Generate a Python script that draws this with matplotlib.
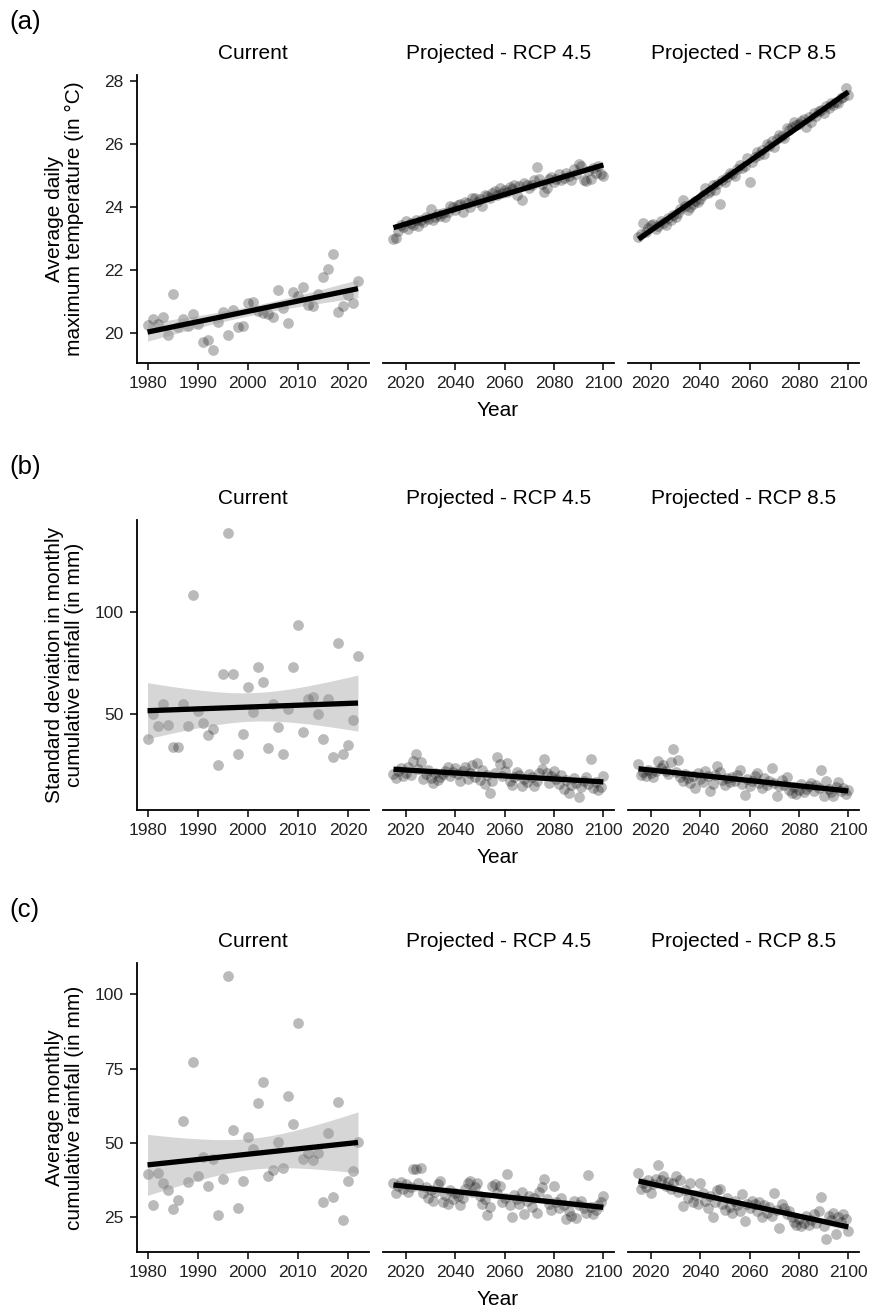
import numpy as np
import matplotlib
matplotlib.use('Agg')
import matplotlib.pyplot as plt

plt.rcParams['font.family'] = ['Liberation Sans', 'DejaVu Sans']

years_cur = np.arange(1980, 2023)
years_proj = np.arange(2015, 2101)

# (a) average daily maximum temperature
tmax_cur = [20.27, 20.45, 20.30, 20.50, 19.95, 21.26, 20.19, 20.45, 20.24, 20.60,
            20.30, 19.72, 19.80, 19.47, 20.37, 20.66, 19.95, 20.75, 20.21, 20.22,
            20.96, 20.98, 20.70, 20.64, 20.61, 20.50, 21.38, 20.80, 20.33, 21.32,
            21.17, 21.47, 20.90, 20.85, 21.24, 21.77, 22.05, 22.52, 20.66, 20.87,
            21.20, 20.95, 21.66]
tmax_45 = [23.00, 23.02, 23.25, 23.45, 23.38, 23.55, 23.30, 23.50, 23.42, 23.60,
           23.40, 23.58, 23.52, 23.70, 23.62, 23.95, 23.60, 23.68, 23.78, 23.72,
           23.80, 23.70, 23.85, 24.05, 24.00, 23.90, 24.08, 24.10, 23.85, 24.15,
           24.12, 24.00, 24.30, 24.28, 24.18, 24.25, 24.05, 24.40, 24.35, 24.28,
           24.45, 24.50, 24.40, 24.60, 24.45, 24.55, 24.48, 24.65, 24.58, 24.70,
           24.40, 24.68, 24.22, 24.78, 24.70, 24.60, 24.72, 24.85, 25.27, 24.90,
           24.75, 24.47, 24.60, 24.88, 24.95, 24.80, 24.90, 25.05, 24.85, 24.92,
           25.10, 25.00, 24.85, 25.20, 25.05, 25.38, 25.30, 24.85, 24.82, 25.15,
           24.90, 25.25, 25.10, 25.30, 25.05, 24.98]
tmax_85 = [23.05, 23.15, 23.50, 23.20, 23.35, 23.45, 23.48, 23.30, 23.40, 23.55,
           23.50, 23.45, 23.65, 23.60, 23.75, 23.70, 23.80, 23.95, 24.22, 24.05,
           23.90, 24.00, 24.10, 24.20, 24.15, 24.25, 24.40, 24.61, 24.45, 24.50,
           24.70, 24.55, 24.75, 24.10, 24.85, 24.80, 24.95, 25.10, 25.05, 25.00,
           25.20, 25.35, 25.25, 25.30, 25.55, 24.79, 25.45, 25.60, 25.75, 25.65,
           25.80, 25.70, 26.00, 25.95, 26.10, 25.90, 26.15, 26.30, 26.25, 26.20,
           26.50, 26.45, 26.55, 26.70, 26.60, 26.65, 26.75, 26.80, 26.55, 26.85,
           26.70, 27.00, 26.90, 27.05, 27.10, 27.00, 27.20, 27.15, 27.30, 27.25,
           27.35, 27.30, 27.45, 27.50, 27.78, 27.55]

# (b) standard deviation of monthly cumulative rainfall
rsd_cur = [37.7, 50.0, 43.9, 54.9, 44.3, 33.8, 33.8, 54.9, 43.9, 108.2,
           51.3, 45.2, 39.5, 42.6, 24.8, 69.3, 138.7, 69.3, 30.0, 39.8,
           63.1, 51.0, 72.9, 65.7, 33.3, 54.6, 43.6, 30.0, 52.1, 72.9,
           93.4, 41.0, 57.0, 58.2, 50.0, 37.4, 57.0, 28.7, 84.9, 30.0,
           34.6, 46.7, 78.4]
rsd_45 = [20.5, 18.5, 22.0, 23.5, 19.5, 21.0, 24.0, 20.0, 26.5, 30.0,
          23.0, 26.3, 18.0, 20.5, 22.5, 18.5, 16.0, 21.0, 17.5, 19.0,
          20.5, 22.0, 24.0, 19.5, 21.5, 23.5, 20.5, 17.0, 22.0, 24.0,
          18.0, 21.0, 24.5, 19.0, 25.5, 17.5, 22.5, 15.5, 20.0, 11.2,
          17.0, 21.0, 28.8, 25.0, 19.5, 22.0, 25.5, 17.0, 15.0, 19.0,
          21.5, 20.0, 14.5, 18.0, 16.5, 20.5, 19.0, 14.5, 17.0, 21.0,
          23.0, 27.6, 21.0, 16.0, 19.5, 22.0, 18.0, 15.5, 20.0, 13.0,
          17.5, 11.2, 15.0, 18.5, 16.0, 9.1, 14.0, 17.0, 19.0, 15.5,
          27.9, 13.5, 16.5, 12.5, 14.0, 19.5]
rsd_85 = [25.2, 20.0, 21.5, 19.5, 22.5, 21.0, 19.0, 22.0, 26.5, 23.5,
          24.5, 22.0, 20.5, 26.0, 32.8, 21.5, 27.1, 19.0, 17.0, 20.5,
          18.5, 16.0, 19.5, 13.3, 21.0, 18.0, 16.5, 22.0, 19.5, 12.0,
          15.5, 20.0, 24.2, 21.5, 17.5, 15.0, 18.5, 16.5, 19.0, 17.0,
          20.0, 22.5, 15.5, 10.0, 18.0, 14.5, 17.0, 19.5, 21.0, 16.0,
          13.5, 18.5, 15.0, 17.0, 23.5, 16.0, 9.5, 14.5, 17.5, 15.0,
          19.0, 12.5, 11.0, 14.0, 10.5, 12.5, 15.5, 11.5, 13.0, 14.5,
          16.0, 12.0, 15.0, 13.5, 22.2, 9.5, 17.0, 13.0, 11.5, 9.5,
          14.0, 16.5, 12.0, 13.5, 10.5, 12.5]

# (c) average monthly cumulative rainfall
rmean_cur = [39.4, 29.0, 39.9, 36.5, 34.3, 27.6, 30.9, 57.3, 36.9, 77.1,
             38.8, 45.2, 35.4, 44.6, 25.7, 38.0, 106.1, 54.3, 28.1, 37.1,
             52.0, 47.8, 63.5, 70.4, 38.8, 41.0, 50.3, 41.6, 65.9, 56.4,
             90.4, 44.7, 46.6, 44.4, 46.6, 30.2, 53.4, 31.7, 63.8, 23.9,
             37.1, 40.7, 50.2]
rmean_45 = [36.5, 33.0, 35.5, 37.0, 34.5, 36.0, 33.5, 35.0, 41.1, 41.3,
            36.5, 41.7, 33.0, 35.0, 31.5, 34.0, 30.5, 33.5, 36.0, 37.1,
            30.0, 32.5, 29.5, 34.0, 31.0, 33.0, 32.0, 29.0, 31.5, 34.5,
            36.5, 37.1, 33.5, 35.0, 36.5, 32.0, 29.5, 31.0, 25.8, 28.5,
            35.5, 36.0, 33.0, 35.5, 30.0, 31.5, 39.5, 29.0, 25.0, 32.5,
            31.0, 29.5, 33.5, 26.2, 30.5, 32.0, 28.5, 31.5, 26.5, 33.5,
            35.0, 37.8, 31.0, 29.5, 27.3, 35.5, 30.0, 28.0, 31.5, 29.0,
            24.5, 27.0, 25.5, 30.5, 24.8, 29.0, 30.5, 28.0, 26.5, 39.2,
            28.5, 26.0, 27.5, 29.0, 30.0, 32.1]
rmean_85 = [39.9, 34.5, 36.5, 35.0, 37.5, 33.0, 36.0, 38.0, 42.5, 37.5,
            39.0, 35.5, 37.0, 34.5, 36.5, 39.0, 33.5, 37.5, 28.8, 34.0,
            31.5, 36.5, 30.0, 32.5, 29.5, 36.6, 33.0, 30.5, 28.0, 32.0,
            24.9, 30.0, 34.0, 34.6, 29.5, 27.5, 31.5, 28.5, 26.5, 30.5,
            29.0, 27.0, 32.7, 23.8, 29.5, 28.0, 30.5, 29.5, 27.0, 30.0,
            24.9, 29.0, 26.5, 28.5, 25.5, 33.0, 27.5, 21.3, 29.5, 28.0,
            26.0, 27.0, 25.0, 23.5, 22.5, 24.5, 22.0, 23.0, 25.5, 22.5,
            24.0, 26.0, 23.0, 27.0, 31.8, 22.0, 17.7, 25.5, 24.0, 26.5,
            19.2, 25.0, 23.5, 26.0, 24.5, 20.2]

panel_titles = ['Current', 'Projected - RCP 4.5', 'Projected - RCP 8.5']
row_letters = ['(a)', '(b)', '(c)']
row_ylabels = ['Average daily\nmaximum temperature (in \u00b0C)',
               'Standard deviation in monthly\ncumulative rainfall (in mm)',
               'Average monthly\ncumulative rainfall (in mm)']
row_yticks = [[20, 22, 24, 26, 28], [50, 100], [25, 50, 75, 100]]
rows = [[tmax_cur, tmax_45, tmax_85],
        [rsd_cur, rsd_45, rsd_85],
        [rmean_cur, rmean_45, rmean_85]]
col_years = [years_cur, years_proj, years_proj]
col_xticks = [[1980, 1990, 2000, 2010, 2020], [2020, 2040, 2060, 2080, 2100],
              [2020, 2040, 2060, 2080, 2100]]

W, H = 870, 1308
row_tb = [(75, 363), (520, 810), (963, 1252)]
col_lr = [(137, 368.5), (383, 613.8), (628, 858.8)]


def t95(df):
    # rough two-sided 95% t quantile
    return 1.96 + 2.4 / df


def lm_fit(x, y, xs):
    x = np.asarray(x, float)
    y = np.asarray(y, float)
    b, a = np.polyfit(x, y, 1)
    n = len(x)
    resid = y - (a + b * x)
    s = np.sqrt(np.sum(resid ** 2) / (n - 2))
    se = s * np.sqrt(1 / n + (xs - x.mean()) ** 2 / np.sum((x - x.mean()) ** 2))
    fit = a + b * xs
    return fit, fit - t95(n - 2) * se, fit + t95(n - 2) * se


def expand(lo, hi, f=0.05):
    d = (hi - lo) * f
    return lo - d, hi + d


fig = plt.figure(figsize=(W / 100, H / 100), dpi=100)

for r in range(3):
    top, bot = row_tb[r]
    allv = np.concatenate([np.asarray(v, float) for v in rows[r]])
    ylim = expand(allv.min(), allv.max())
    for c in range(3):
        left, right = col_lr[c]
        ax = fig.add_axes([left / W, 1 - bot / H, (right - left) / W, (bot - top) / H])
        x = col_years[c]
        y = np.asarray(rows[r][c], float)
        ax.scatter(x, y, s=60, color='black', alpha=0.27, linewidths=0, zorder=2)
        xs = np.linspace(x.min(), x.max(), 100)
        fit, lo, hi = lm_fit(x, y, xs)
        ax.fill_between(xs, lo, hi, color='#999999', alpha=0.4, linewidth=0, zorder=3)
        ax.plot(xs, fit, color='black', linewidth=3.8, solid_capstyle='butt', zorder=4)

        ax.set_xlim(expand(x.min(), x.max()))
        ax.set_ylim(ylim)
        ax.set_xticks(col_xticks[c])
        ax.set_yticks(row_yticks[r])
        for s in ['top', 'right']:
            ax.spines[s].set_visible(False)
        ax.spines['bottom'].set_linewidth(1.3)
        ax.spines['left'].set_linewidth(1.3)
        ax.tick_params(axis='both', length=5, width=1.1, color='black',
                       labelsize=12.5, labelcolor='#222222', pad=4.5)
        if c > 0:
            ax.spines['left'].set_visible(False)
            ax.tick_params(axis='y', left=False, labelleft=False)
        else:
            ax.set_ylabel(row_ylabels[r], fontsize=15, linespacing=1.05)
            ax.yaxis.set_label_coords((84 - left) / (right - left), 0.5)
        ax.text(0.5, 1 + 16 / (bot - top), panel_titles[c], transform=ax.transAxes,
                ha='center', va='baseline', fontsize=15)

    fig.text(498 / W, 1 - (bot + 53) / H, 'Year', ha='center', va='baseline', fontsize=15)
    fig.text(9 / W, 1 - (top - 46) / H, row_letters[r], ha='left', va='baseline', fontsize=18.5)

fig.savefig('out.png', dpi=100)
